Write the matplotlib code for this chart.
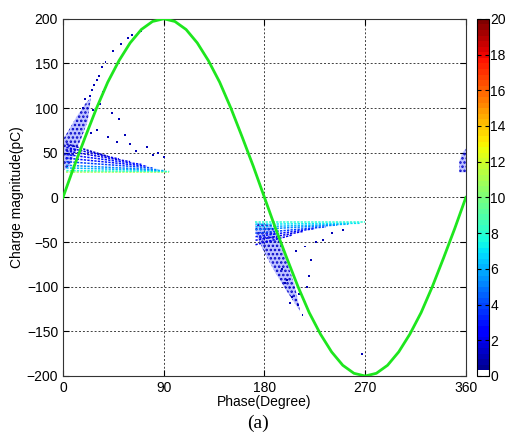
import numpy as np
import matplotlib
matplotlib.use("Agg")
import matplotlib.pyplot as plt
from matplotlib.collections import LineCollection
from matplotlib.patches import Polygon
from matplotlib.colors import ListedColormap, Normalize

plt.rcParams['font.family'] = ['Liberation Sans', 'DejaVu Sans']
plt.rcParams['hatch.linewidth'] = 1.2

# reference voltage curve (every 10 degrees)
sine_phase = list(range(0, 361, 10))
sine_q = [0, 35, 68, 100, 129, 153, 173, 188, 197, 200, 197, 188, 173, 153, 129,
          100, 68, 35, 0, -35, -68, -100, -129, -153, -173, -188, -197, -200,
          -197, -188, -173, -153, -129, -100, -68, -35, 0]

# discharge streaks: phase start, charge start, phase end, charge end, count
streak_p0 = [3, 3, 3, 3, 3, 3, 3, 3, 3, 3,
             172, 172, 172, 172, 172, 172, 172, 172]
streak_q0 = [28, 30, 33, 36, 40, 44, 48, 52, 56, 60,
             -28, -30, -33, -36, -40, -44, -48, -53]
streak_p1 = [95, 95, 90, 85, 80, 75, 70, 60, 50, 40,
             270, 265, 255, 245, 235, 225, 215, 205]
streak_q1 = [28, 29, 30, 31, 33, 35, 37, 40, 43, 46,
             -28, -29, -30, -31, -33, -35, -38, -42]
streak_n = [11, 8, 6, 5, 4, 3, 3, 2, 2, 1.5,
            8, 7, 6, 5, 4, 3, 2, 2]

# dense low-count regions (outlines)
wedge_pos = [(0, 30), (0, 65), (5, 75), (12, 90), (20, 105), (25, 112),
             (22, 85), (16, 65), (10, 48), (6, 35)]
wedge_neg = [(172, -28), (172, -40), (180, -62), (190, -85), (200, -105),
             (212, -128), (207, -98), (200, -72), (193, -48), (186, -30)]
wedge_end = [(354, 28), (354, 40), (357, 50), (360, 55), (360, 28)]

# scattered single discharges
dot_p = [24, 26, 28, 30, 32, 35, 38, 45, 52, 58, 62, 70, 25, 30, 40, 55, 60,
         75, 85, 33, 44, 50, 36, 27, 48, 20, 18, 65, 80, 90,
         205, 210, 214, 200, 218, 222, 196, 267, 208, 216, 226, 232, 240, 250,
         203, 198, 211, 220]
dot_q = [114, 120, 126, 131, 136, 146, 152, 164, 172, 178, 182, 186, 72, 76,
         68, 70, 60, 56, 50, 105, 95, 88, 118, 98, 62, 110, 100, 52, 48, 45,
         -112, -120, -132, -92, -100, -70, -80, -175, -60, -55, -50, -48, -40, -36,
         -118, -96, -108, -88]
dot_n = [1] * 30 + [1] * 18

# colormap: jet with white for zero counts
jet = plt.get_cmap('jet')(np.linspace(0, 1, 64))
jet[0] = [1, 1, 1, 1]
cmap = ListedColormap(jet)
norm = Normalize(0, 20)

fig = plt.figure(figsize=(5.1, 4.41), dpi=100)
ax = fig.add_axes([0.1235, 0.1474, 0.790, 0.810])
cax = fig.add_axes([0.935, 0.1474, 0.0235, 0.810])

for pts in (wedge_pos, wedge_neg, wedge_end):
    ax.add_patch(Polygon(pts, closed=True, facecolor=cmap(norm(3)),
                         edgecolor='none', alpha=0.25, zorder=2))
    ax.add_patch(Polygon(pts, closed=True, facecolor='none',
                         edgecolor=cmap(norm(1.5)), hatch='....',
                         linewidth=0, zorder=2))

segs = [[(a, b), (c, d)] for a, b, c, d in zip(streak_p0, streak_q0, streak_p1, streak_q1)]
lc = LineCollection(segs, cmap=cmap, norm=norm, linewidths=1.1,
                    linestyles=(0, (1.5, 0.8)), zorder=3)
lc.set_array(np.array(streak_n))
ax.add_collection(lc)

ax.scatter(dot_p, dot_q, c=dot_n, cmap=cmap, norm=norm, s=2, marker='s',
           linewidths=0, zorder=3)

ax.plot(sine_phase, sine_q, color='#1ee61e', linewidth=2, zorder=4)

ax.set_xlim(0, 360)
ax.set_ylim(-200, 200)
ax.set_xticks([0, 90, 180, 270, 360])
ax.set_yticks(range(-200, 201, 50))
ax.tick_params(direction='in', length=4, labelsize=10, top=True, right=True)
ax.grid(True, color='0.25', linestyle=(0, (2, 2)), linewidth=0.7)
ax.set_xlabel('Phase(Degree)', fontsize=10, labelpad=0)
ax.set_ylabel('Charge magnitude(pC)', fontsize=10, labelpad=2)
for s in ax.spines.values():
    s.set_color('0.2')
    s.set_linewidth(0.8)

sm = plt.cm.ScalarMappable(cmap=cmap, norm=norm)
cb = fig.colorbar(sm, cax=cax, ticks=range(0, 21, 2))
cb.ax.tick_params(direction='in', length=3, labelsize=10, left=True, pad=1)
cb.outline.set_linewidth(0.8)

fig.text(0.506, 0.03, '(a)', family='Liberation Serif', fontsize=14, ha='center')

fig.savefig('out.png', dpi=100)
